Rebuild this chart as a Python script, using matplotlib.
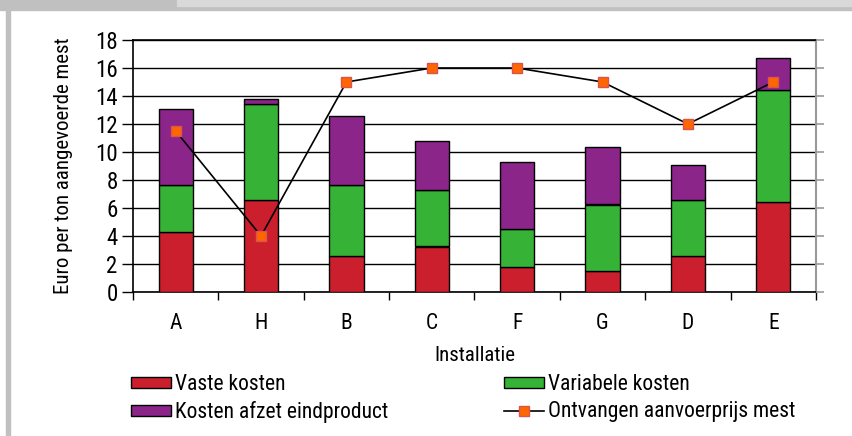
import matplotlib.pyplot as plt
import matplotlib.patches as mpatches
from matplotlib.lines import Line2D
from matplotlib import font_manager
import numpy as np

# kosten per installatie (euro per ton aangevoerde mest)
installaties = ["A", "H", "B", "C", "F", "G", "D", "E"]
vaste_kosten = [4.3, 6.55, 2.55, 3.25, 1.8, 1.5, 2.55, 6.45]
variabele_kosten = [3.35, 6.9, 5.1, 4.05, 2.7, 4.75, 4.0, 7.95]
kosten_afzet = [5.45, 0.35, 4.95, 3.45, 4.75, 4.1, 2.5, 2.3]
aanvoerprijs = [11.5, 4.0, 15.0, 16.0, 16.0, 15.0, 12.0, 15.0]

rood = "#cc1f2e"
groen = "#36b336"
paars = "#8b2589"
oranje = "#ff6600"

# smal lettertype als het er is
namen = {f.name for f in font_manager.fontManager.ttflist}
smal = [n for n in ['Liberation Sans Narrow', 'DejaVu Sans Condensed', 'Roboto Condensed',
                    'Open Sans Condensed', 'Liberation Sans'] if n in namen]
plt.rcParams['font.family'] = smal[:1] + ['DejaVu Sans']

fig = plt.figure(figsize=(8.53, 4.36), dpi=100)

# grijze rand om de grafiek
fig.patches.append(mpatches.Rectangle((0, 1 - 10/436), 1, 10/436, transform=fig.transFigure,
                                      color="#c0c0c0", zorder=0))
fig.patches.append(mpatches.Rectangle((177/853, 1 - 6/436), 1, 6/436, transform=fig.transFigure,
                                      color="#d9d9d9", zorder=0))
fig.patches.append(mpatches.Rectangle((6/853, 0), 4/853, 1, transform=fig.transFigure,
                                      color="#c0c0c0", zorder=0))

ax = fig.add_axes([133/853, 1 - 292/436, 683/853, 252/436])
x = np.arange(len(installaties))
w = 0.4

onder1 = np.array(vaste_kosten)
onder2 = onder1 + np.array(variabele_kosten)
ax.bar(x, vaste_kosten, w, color=rood, edgecolor="black", linewidth=1, zorder=3)
ax.bar(x, variabele_kosten, w, bottom=onder1, color=groen, edgecolor="black", linewidth=1, zorder=3)
ax.bar(x, kosten_afzet, w, bottom=onder2, color=paars, edgecolor="black", linewidth=1, zorder=3)
ax.plot(x, aanvoerprijs, color="black", linewidth=1.2, marker="s", markersize=7,
        markerfacecolor=oranje, markeredgecolor="#d9534f", markeredgewidth=1, zorder=4)

ax.set_xlim(-0.5, len(installaties) - 0.5)
ax.set_ylim(0, 18)
ax.set_yticks(np.arange(0, 19, 2))
ax.yaxis.grid(True, color="black", linewidth=1)
ax.set_axisbelow(True)

ax.set_xticks(x)
ax.set_xticklabels(installaties)
ax.set_xticks(np.arange(-0.5, len(installaties), 1), minor=True)
ax.tick_params(axis="x", which="major", length=0, pad=15, labelsize=15.5)
ax.tick_params(axis="x", which="minor", length=6, width=1, direction="out")
ax.tick_params(axis="y", length=8, width=1, direction="out", labelsize=16.5, pad=3)

ax.spines["right"].set_color("#999999")
ax.spines["right"].set_linewidth(1.5)
for s in ["left", "bottom", "top"]:
    ax.spines[s].set_linewidth(1.2)

ax2 = ax.twinx()
ax2.set_ylim(0, 18)
ax2.set_yticks(np.arange(0, 19, 2))
ax2.set_yticklabels([])
ax2.tick_params(axis="y", length=6, width=1.2, color="#999999", direction="out")
for s in ["left", "bottom", "top", "right"]:
    ax2.spines[s].set_visible(False)

ax.set_xlabel("Installatie", fontsize=15, labelpad=9)
ax.set_ylabel("Euro per ton aangevoerde mest", fontsize=15, labelpad=16)

h_vast = mpatches.Patch(facecolor=rood, edgecolor="black", linewidth=1)
h_var = mpatches.Patch(facecolor=groen, edgecolor="black", linewidth=1)
h_afzet = mpatches.Patch(facecolor=paars, edgecolor="black", linewidth=1)
h_prijs = Line2D([], [], color="black", linewidth=1.2, marker="s", markersize=7,
                 markerfacecolor=oranje, markeredgecolor="#d9534f")

opts = dict(frameon=False, fontsize=15.5, handlelength=1.85, handleheight=0.42,
            handletextpad=0.2, labelspacing=0.3, borderaxespad=0, borderpad=0)
fig.legend([h_vast, h_afzet], ["Vaste kosten", "Kosten afzet eindproduct"],
           loc="upper left", bbox_to_anchor=(131/853, 1 - 374/436), **opts)
fig.legend([h_var, h_prijs], ["Variabele kosten", "Ontvangen aanvoerprijs mest"],
           loc="upper left", bbox_to_anchor=(504/853, 1 - 374/436), **opts)

fig.savefig("out.png", dpi=100)
